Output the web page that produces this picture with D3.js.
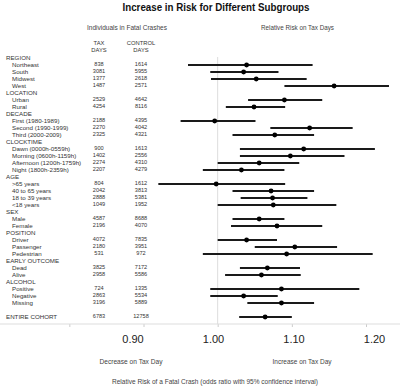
<!DOCTYPE html>
<html><head><meta charset="utf-8">
<script src="https://cdn.jsdelivr.net/npm/d3@7"></script>
<style>body{margin:0;background:#fff}svg{display:block}</style>
</head><body><svg id="c" width="400" height="390"></svg>
<script>
// ---- data ----
const rowLabels = ["REGION","Northeast","South","Midwest","West",
  "LOCATION","Urban","Rural",
  "DECADE","First (1980-1989)","Second (1990-1999)","Third (2000-2009)",
  "CLOCKTIME","Dawn (0000h-0559h)","Morning (0600h-1159h)","Afternoon (1200h-1759h)","Night (1800h-2359h)",
  "AGE",">65 years","40 to 65 years","18 to 39 years","<18 years",
  "SEX","Male","Female",
  "POSITION","Driver","Passenger","Pedestrian",
  "EARLY OUTCOME","Dead","Alive",
  "ALCOHOL","Positive","Negative","Missing",
  "","ENTIRE COHORT"];
const taxDays = [null,838,3081,1377,1487, null,2529,4254, null,2188,2270,2325,
  null,900,1402,2274,2207, null,804,2042,2888,1049, null,4587,2196,
  null,4072,2180,531, null,3825,2958, null,724,2863,3196, null,6783];
const controlDays = [null,1614,5955,2618,2571, null,4642,8116, null,4395,4042,4321,
  null,1613,2556,4310,4279, null,1612,3813,5381,1952, null,8688,4070,
  null,7835,3951,972, null,7172,5586, null,1335,5534,5889, null,12758];
const relRisk = [null,1.039,1.035,1.052,1.157, null,1.090,1.049, null,0.996,1.124,1.077,
  null,1.116,1.098,1.056,1.032, null,0.998,1.072,1.074,1.075, null,1.056,1.080,
  null,1.039,1.104,1.093, null,1.067,1.059, null,1.086,1.035,1.086, null,1.064];
const ciLow = [null,0.960,0.990,0.991,1.090, null,1.041,1.011, null,0.950,1.071,1.020,
  null,1.030,1.030,1.000,0.980, null,0.920,1.020,1.031,1.000, null,1.020,1.018,
  null,1.000,1.050,0.980, null,1.030,1.010, null,0.990,0.990,1.040, null,1.029];
const ciHigh = [null,1.128,1.082,1.120,1.231, null,1.141,1.091, null,1.051,1.182,1.130,
  null,1.212,1.171,1.110,1.090, null,1.091,1.130,1.121,1.160, null,1.090,1.141,
  null,1.080,1.161,1.209, null,1.111,1.112, null,1.191,1.081,1.130, null,1.100];
const axisTicks = [0.80,0.90,1.00,1.10,1.20];
const tickLabels = [0.90,1.00,1.10,1.20];

// ---- drawing ----
const svg = d3.select("#c");
const font = "'Liberation Sans', Arial, sans-serif";
const rows = rowLabels.map((l,i)=>({label:l,tax:taxDays[i],ctrl:controlDays[i],rr:relRisk[i],lo:ciLow[i],hi:ciHigh[i],i}));
const y = d3.scalePoint().domain(d3.range(rows.length)).range([58,317]);
const x = d3.scaleLinear().domain([0.9,1.2]).range([143.5,366]);
const xLab = d3.scaleLinear().domain([0.9,1.2]).range([132.5,374]);

// title
svg.append("text").attr("x",216).attr("y",11).attr("text-anchor","middle")
  .attr("font-family",font).attr("font-weight","bold").attr("font-size",10)
  .attr("textLength",187).attr("lengthAdjust","spacingAndGlyphs").attr("fill","#111")
  .text("Increase in Risk for Different Subgroups");
svg.append("text").attr("x",127).attr("y",29.5).attr("text-anchor","middle")
  .attr("font-family",font).attr("font-size",7).attr("fill","#444")
  .attr("textLength",80).attr("lengthAdjust","spacingAndGlyphs").text("Individuals in Fatal Crashes");
svg.append("text").attr("x",297.5).attr("y",29.5).attr("text-anchor","middle")
  .attr("font-family",font).attr("font-size",7).attr("fill","#444")
  .attr("textLength",73).attr("lengthAdjust","spacingAndGlyphs").text("Relative Risk on Tax Days");
// column headers
[[99,["TAX","DAYS"]],[141,["CONTROL","DAYS"]]].forEach(([cx,lines])=>{
  lines.forEach((t,k)=>svg.append("text").attr("x",cx).attr("y",45+k*7).attr("text-anchor","middle")
    .attr("font-family",font).attr("font-size",5.8).attr("fill","#333").text(t));
});

// gridline at 1.00
svg.append("line").attr("x1",x(1)).attr("x2",x(1)).attr("y1",57).attr("y2",324)
  .attr("stroke","#ddd").attr("stroke-width",1);

// axis
const ax = svg.append("g").attr("transform","translate(0,324)")
  .call(d3.axisBottom(x).tickValues(axisTicks).tickSize(3).tickFormat(""));
ax.select(".domain").remove();
ax.selectAll(".tick line").attr("stroke","#ccc");
svg.append("line").attr("x1",0).attr("x2",400).attr("y1",324).attr("y2",324).attr("stroke","#ddd");
const axl = svg.append("g").attr("transform","translate(0,334)")
  .call(d3.axisBottom(xLab).tickValues(tickLabels).tickSize(0).tickFormat(d3.format(".2f")));
axl.select(".domain").remove();
axl.selectAll("text").attr("font-family",font).attr("font-size",11).attr("fill","#222").attr("dy","0.5em");

// row labels
const isHeader = d => d.tax===null || d.label===d.label.toUpperCase();
svg.append("g").selectAll("text").data(rows).join("text")
  .attr("x",d=>isHeader(d)?6:12).attr("y",d=>y(d.i)+2.3)
  .attr("font-family",font).attr("font-size",6.2).attr("fill","#333")
  .text(d=>d.label);
const numRows = rows.filter(d=>d.tax!==null);
svg.append("g").selectAll("text").data(numRows).join("text")
  .attr("x",99).attr("y",d=>y(d.i)+0.8).attr("text-anchor","middle")
  .attr("font-family",font).attr("font-size",5.6).attr("fill","#333").text(d=>d.tax);
svg.append("g").selectAll("text").data(numRows).join("text")
  .attr("x",141).attr("y",d=>y(d.i)+0.8).attr("text-anchor","middle")
  .attr("font-family",font).attr("font-size",5.6).attr("fill","#333").text(d=>d.ctrl);

// intervals
svg.append("g").selectAll("line").data(numRows).join("line")
  .attr("x1",d=>x(d.lo)).attr("x2",d=>x(d.hi)).attr("y1",d=>y(d.i)).attr("y2",d=>y(d.i))
  .attr("stroke","#1a1a1a").attr("stroke-width",1.8);
svg.append("g").selectAll("circle").data(numRows).join("circle")
  .attr("cx",d=>x(d.rr)).attr("cy",d=>y(d.i)).attr("r",2.4).attr("fill","#000");

// bottom labels
svg.append("text").attr("x",131).attr("y",364).attr("text-anchor","middle")
  .attr("font-family",font).attr("font-size",7).attr("fill","#444")
  .attr("textLength",63).attr("lengthAdjust","spacingAndGlyphs").text("Decrease on Tax Day");
svg.append("text").attr("x",302).attr("y",364).attr("text-anchor","middle")
  .attr("font-family",font).attr("font-size",7).attr("fill","#444")
  .attr("textLength",59).attr("lengthAdjust","spacingAndGlyphs").text("Increase on Tax Day");
svg.append("text").attr("x",215).attr("y",384).attr("text-anchor","middle")
  .attr("font-family",font).attr("font-size",7).attr("fill","#444")
  .attr("textLength",206).attr("lengthAdjust","spacingAndGlyphs")
  .text("Relative Risk of a Fatal Crash (odds ratio with 95% confidence interval)");
</script></body></html>
